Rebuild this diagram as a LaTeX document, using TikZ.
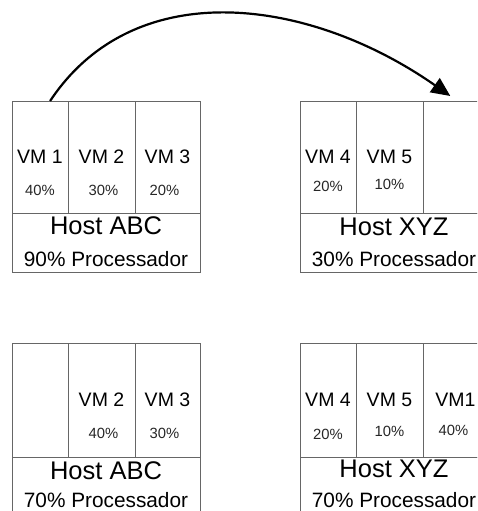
\documentclass[tikz,border=0pt]{standalone}
\usepackage{fontspec}
\setmainfont{Liberation Sans}
\usetikzlibrary{positioning, calc, arrows.meta}

\begin{document}
\begin{tikzpicture}[x=1pt, y=-1pt,
	cella/.style={draw=black!60, line width=0.8pt, inner sep=0pt, outer sep=0pt,
		minimum height=112pt, font=\fontsize{19.5}{22}\selectfont},
	hostbox/.style={draw=black!60, line width=0.8pt, inner sep=0pt, outer sep=0pt,
		anchor=north west, minimum width=188pt, minimum height=59pt},
	perc/.style={inner sep=0pt, text=black!85, font=\fontsize{14.8}{16}\selectfont},
	hosttxt/.style={inner sep=0pt, font=\fontsize{25.5}{28}\selectfont},
	proctxt/.style={inner sep=0pt, font=\fontsize{20.8}{24}\selectfont}]
		\clip (0,0) rectangle (477,511);
		
		%Host ABC, before
		\node (a1) at (12,101) [cella, anchor=north west, minimum width=56pt]{VM 1};
		\node (a2) [cella, right=0pt of a1, minimum width=67pt]{VM 2};
		\node (a3) [cella, right=0pt of a2, minimum width=65pt]{VM 3};
		\node (pa1) at ([yshift=-33pt]a1.center) [perc]{40\%};
		\node (pa2) at ([xshift=2pt, yshift=-33pt]a2.center) [perc]{30\%};
		\node (pa3) at ([xshift=-3pt, yshift=-33pt]a3.center) [perc]{20\%};
		\node (hA) at (a1.south west) [hostbox]{};
		\node (tA) at ([yshift=17pt]hA.center) [hosttxt]{Host ABC};
		\node (rA) at ([yshift=-17pt]hA.center) [proctxt]{90\% Processador};
		
		%Host XYZ, before
		\node (b1) at (300,101) [cella, anchor=north west, minimum width=56pt]{VM 4};
		\node (b2) [cella, right=0pt of b1, minimum width=67pt]{VM 5};
		\node (b3) [cella, right=0pt of b2, minimum width=65pt]{};
		\node (pb1) at ([yshift=-29pt]b1.center) [perc]{20\%};
		\node (pb2) at ([yshift=-27pt]b2.center) [perc]{10\%};
		\node (hB) at (b1.south west) [hostbox]{};
		\node (tB) at ([yshift=16pt]hB.center) [hosttxt]{Host XYZ};
		\node (rB) at ([yshift=-17pt]hB.center) [proctxt]{30\% Processador};
		
		%Host ABC, after
		\node (c1) at (12,343) [cella, anchor=north west, minimum width=56pt, minimum height=114pt]{};
		\node (c2) [cella, right=0pt of c1, minimum width=67pt, minimum height=114pt]{VM 2};
		\node (c3) [cella, right=0pt of c2, minimum width=65pt, minimum height=114pt]{VM 3};
		\node (pc2) at ([xshift=2pt, yshift=-33pt]c2.center) [perc]{40\%};
		\node (pc3) at ([xshift=-3pt, yshift=-33pt]c3.center) [perc]{30\%};
		\node (hC) at (c1.south west) [hostbox]{};
		\node (tC) at ([yshift=15.5pt]hC.center) [hosttxt]{Host ABC};
		\node (rC) at ([yshift=-13.5pt]hC.center) [proctxt]{70\% Processador};
		
		%Host XYZ, after
		\node (d1) at (300,343) [cella, anchor=north west, minimum width=56pt, minimum height=114pt]{VM 4};
		\node (d2) [cella, right=0pt of d1, minimum width=67pt, minimum height=114pt]{VM 5};
		\node (d3) [cella, right=0pt of d2, minimum width=65pt, minimum height=114pt]{VM1};
		\node (pd1) at ([yshift=-34pt]d1.center) [perc]{20\%};
		\node (pd2) at ([yshift=-31pt]d2.center) [perc]{10\%};
		\node (pd3) at ([xshift=-2pt, yshift=-30pt]d3.center) [perc]{40\%};
		\node (hD) at (d1.south west) [hostbox]{};
		\node (tD) at ([yshift=17.5pt]hD.center) [hosttxt]{Host XYZ};
		\node (rD) at ([yshift=-13.5pt]hD.center) [proctxt]{70\% Processador};
		
		%Migration
		\coordinate (partenza) at ($(a1.north west)!0.68!(a1.north east)$);
		\coordinate (arrivo) at ($(b3.north west)!0.42!(b3.north east)+(0,5pt)$);
		\draw[line width=2.2pt, -{Triangle[length=19pt, width=17pt]}] (partenza)
		.. controls +(85,-128) and +(-140,-98) .. (arrivo);
\end{tikzpicture}
\end{document}
